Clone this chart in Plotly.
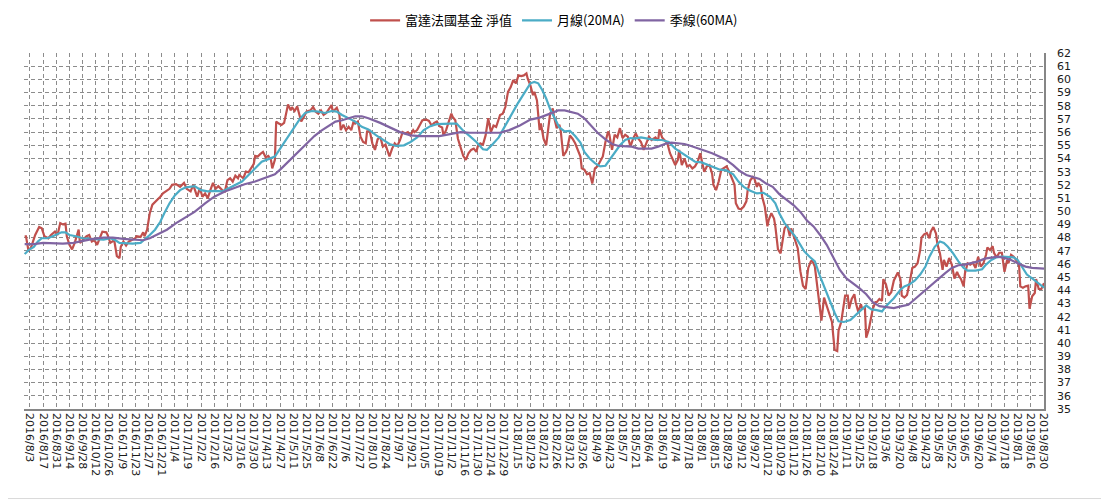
import plotly.graph_objects as go

# ---- x-axis category labels (one every 10 trading days) ----
tick_labels = [
    "2016/8/3", "2016/8/17", "2016/8/31", "2016/9/14", "2016/9/28", "2016/10/12", "2016/10/26",
    "2016/11/9", "2016/11/23", "2016/12/7", "2016/12/21",
    "2017/1/4", "2017/1/19", "2017/2/2", "2017/2/16", "2017/3/2", "2017/3/16", "2017/3/30",
    "2017/4/13", "2017/4/27", "2017/5/11", "2017/5/25", "2017/6/8", "2017/6/22", "2017/7/6",
    "2017/7/27", "2017/8/10", "2017/8/24", "2017/9/7", "2017/9/21", "2017/10/5", "2017/10/19",
    "2017/11/2", "2017/11/16", "2017/11/30", "2017/12/14", "2017/12/29",
    "2018/1/15", "2018/1/29", "2018/2/12", "2018/2/26", "2018/3/12", "2018/3/26", "2018/4/9",
    "2018/4/23", "2018/5/7", "2018/5/21", "2018/6/4", "2018/6/19", "2018/7/4", "2018/7/18",
    "2018/8/1", "2018/8/15", "2018/8/29", "2018/9/12", "2018/9/27", "2018/10/12", "2018/10/29",
    "2018/11/12", "2018/11/26", "2018/12/10", "2018/12/24",
    "2019/1/11", "2019/1/25", "2019/2/18", "2019/3/6", "2019/3/20", "2019/4/8", "2019/4/23",
    "2019/5/8", "2019/5/22", "2019/6/5", "2019/6/20", "2019/7/4", "2019/7/18", "2019/8/1",
    "2019/8/16", "2019/8/30",
]
label_step = 10  # trading days between labels

# ---- 富達法國基金 淨值 (trading-day index, NAV) ----
nav_day = [
    -4, -3, -1, 1, 4, 7, 9, 11, 14, 16, 19, 21, 23, 25, 27, 28, 30, 32, 34, 37, 38, 40, 43, 45, 47, 49,
    51, 53, 55, 58, 59, 61, 64, 66, 68, 69, 71, 73, 75, 77, 80, 81, 84, 86, 87, 89, 91, 93, 95, 97, 99,
    101, 103, 106, 108, 111, 114, 117, 119, 122, 124, 127, 129, 131, 133, 135, 137, 139, 141, 143, 146,
    148, 150, 152, 154, 156, 158, 159, 162, 164, 166, 168, 170, 171, 173, 175, 177, 179, 181, 183, 184,
    186, 187, 189, 191, 193, 195, 196, 198, 199, 201, 203, 204, 206, 208, 210, 213, 215, 217, 219, 221,
    223, 225, 227, 229, 230, 233, 235, 236, 238, 240, 242, 244, 246, 247, 249, 251, 253, 255, 256, 258,
    260, 262, 264, 266, 268, 270, 271, 273, 275, 277, 279, 281, 283, 285, 287, 289, 291, 292, 294, 296,
    298, 301, 303, 305, 307, 309, 311, 313, 314, 316, 318, 320, 321, 323, 325, 327, 329, 331, 333, 335,
    337, 339, 340, 342, 344, 346, 348, 350, 352, 354, 356, 357, 359, 361, 363, 365, 367, 369, 371, 373,
    375, 377, 378, 380, 382, 383, 385, 387, 388, 390, 392, 394, 395, 397, 398, 400, 402, 403, 405, 407,
    408, 410, 412, 414, 416, 418, 419, 421, 423, 425, 427, 429, 431, 433, 435, 437, 439, 440, 442, 444,
    446, 448, 450, 452, 454, 456, 458, 460, 462, 464, 466, 468, 470, 472, 475, 477, 478, 480, 482, 484,
    486, 488, 490, 492, 493, 495, 497, 499, 501, 503, 505, 507, 509, 510, 512, 514, 516, 518, 519, 521,
    523, 525, 527, 529, 531, 533, 535, 536, 538, 540, 542, 544, 545, 547, 549, 550, 552, 553, 555, 556,
    558, 560, 561, 563, 565, 566, 568, 570, 571, 573, 575, 577, 578, 580, 582, 583, 585, 587, 589, 591,
    593, 594, 596, 598, 599, 601, 603, 605, 607, 609, 610, 611, 613, 614, 616, 617, 619, 621, 622, 624,
    626, 627, 629, 631, 632, 634, 635, 637, 638, 640, 642, 643, 645, 647, 648, 650, 652, 654, 656, 658,
    659, 661, 662, 664, 666, 668, 670, 672, 674, 676, 677, 679, 681, 683, 684, 686, 688, 689, 691, 693,
    694, 696, 698, 700, 702, 704, 705, 707, 709, 710, 712, 714, 716, 718, 720, 722, 724, 726, 727, 729,
    731, 732, 734, 736, 738, 740, 742, 743, 745, 747, 749, 751, 752, 754, 756, 758, 759, 761, 763, 764,
    766, 768, 770,
]
nav_value = [
    48.1, 48.1, 46.95, 47.3, 48.2, 48.8, 48.7, 48.1, 47.95, 48.2, 48.45, 48.2, 49.1, 49.0, 49.05, 48.1,
    47.45, 47.1, 47.6, 48.6, 47.6, 47.8, 48.1, 48.2, 47.7, 47.8, 47.45, 47.95, 48.45, 48.4, 48.2, 47.6,
    47.8, 46.6, 46.45, 47.3, 47.7, 47.4, 47.7, 47.8, 47.95, 48.1, 48.05, 48.4, 48.1, 48.6, 49.85, 50.5,
    50.7, 50.85, 51.1, 51.35, 51.5, 51.7, 52.0, 52.05, 51.85, 52.15, 51.7, 51.5, 52.0, 51.1, 51.75, 51.1,
    51.35, 50.98, 51.6, 52.15, 51.7, 51.9, 51.6, 51.5, 52.35, 52.5, 52.25, 52.7, 52.5, 52.75, 52.5, 53.0,
    52.95, 53.25, 53.6, 54.2, 54.15, 54.35, 54.5, 54.1, 54.2, 53.9, 53.25, 53.9, 56.8, 56.65, 56.55, 56.7,
    57.55, 58.1, 57.65, 57.9, 57.6, 57.95, 57.55, 56.8, 57.15, 57.55, 57.65, 57.9, 57.55, 57.4, 57.65,
    57.3, 57.45, 57.8, 58.05, 57.55, 57.85, 57.3, 56.15, 56.55, 56.15, 56.4, 56.15, 56.9, 56.65, 56.8,
    55.65, 55.25, 55.15, 56.05, 56.1, 55.15, 54.65, 55.45, 55.65, 54.9, 55.05, 54.75, 54.15, 54.75, 55.15,
    54.95, 55.4, 56.0, 55.9, 56.0, 55.75, 56.15, 56.0, 56.15, 56.5, 56.9, 56.95, 56.85, 56.5, 56.7, 56.8,
    56.45, 56.35, 55.75, 56.15, 56.8, 57.4, 57.15, 56.9, 55.5, 54.9, 54.2, 53.9, 54.4, 54.65, 54.75, 54.5,
    54.9, 55.15, 55.05, 55.75, 57.05, 56.0, 56.5, 56.4, 57.05, 57.3, 57.4, 57.9, 59.05, 59.4, 59.95, 59.7,
    60.3, 60.25, 60.3, 60.45, 60.05, 59.55, 58.8, 59.05, 58.4, 56.15, 56.65, 55.5, 55.0, 56.8, 57.4, 57.8,
    57.15, 56.3, 56.55, 56.15, 54.2, 54.5, 54.75, 55.75, 55.5, 55.15, 54.65, 54.15, 53.25, 53.15, 52.8,
    52.9, 52.1, 53.25, 53.4, 53.75, 54.15, 55.25, 56.05, 55.8, 54.65, 55.8, 55.6, 56.3, 55.55, 55.8, 55.65,
    54.9, 55.5, 55.9, 55.5, 55.25, 54.65, 55.15, 55.65, 55.4, 55.6, 55.35, 56.2, 55.6, 55.4, 55.15, 54.4,
    54.0, 53.5, 53.9, 54.65, 53.5, 54.0, 53.4, 53.5, 53.25, 53.4, 53.75, 54.4, 53.9, 53.0, 53.4, 53.5,
    52.85, 52.0, 51.6, 52.25, 53.15, 53.25, 53.4, 53.0, 52.5, 52.0, 50.6, 50.2, 50.15, 50.35, 50.75, 51.6,
    52.35, 52.6, 52.5, 51.85, 52.15, 51.85, 51.1, 50.35, 48.85, 49.35, 49.85, 49.45, 48.85, 47.1, 46.8,
    47.35, 48.7, 48.95, 48.1, 48.7, 48.1, 47.35, 47.2, 45.45, 44.35, 44.1, 45.7, 46.2, 46.25, 45.8, 44.1,
    43.1, 41.7, 43.45, 42.85, 42.1, 41.6, 40.55, 39.5, 39.4, 40.95, 41.6, 42.35, 43.6, 43.6, 42.6, 43.35,
    43.7, 43.1, 42.35, 42.95, 42.6, 42.7, 40.4, 41.05, 41.55, 42.6, 43.1, 43.1, 43.35, 43.2, 44.85, 44.45,
    43.6, 43.85, 44.75, 45.15, 45.35, 44.85, 43.6, 43.45, 43.65, 44.6, 45.7, 45.8, 46.05, 47.05, 48.0,
    48.25, 48.35, 47.95, 48.45, 48.8, 48.3, 47.55, 46.8, 45.55, 46.3, 45.8, 46.45, 45.95, 44.9, 45.4,
    45.15, 44.85, 44.3, 45.3, 46.05, 45.95, 46.1, 45.7, 46.55, 45.8, 46.05, 46.7, 47.25, 47.05, 47.35,
    46.85, 46.5, 46.85, 46.85, 45.4, 46.3, 46.05, 46.7, 46.55, 46.3, 46.0, 44.3, 44.2, 44.3, 44.35, 42.6,
    43.55, 43.8, 44.85, 44.1, 44.1, 44.55,
]

# ---- 月線(20MA) ----
ma20_day = [
    -4, -1, 3, 6, 9, 13, 16, 20, 24, 27, 30, 35, 40, 46, 51, 56, 61, 65, 68, 73, 78, 84, 87, 91, 95, 99,
    102, 106, 110, 114, 118, 121, 125, 130, 135, 140, 146, 151, 156, 161, 166, 171, 176, 181, 186, 191,
    196, 201, 205, 209, 214, 219, 224, 229, 233, 237, 242, 247, 252, 257, 263, 268, 273, 278, 284, 289,
    294, 299, 304, 309, 314, 319, 324, 329, 334, 339, 344, 347, 351, 356, 359, 364, 370, 375, 380, 383,
    386, 389, 392, 395, 399, 402, 406, 410, 414, 418, 421, 425, 429, 433, 437, 440, 444, 448, 452, 456,
    459, 464, 469, 475, 480, 485, 490, 495, 500, 505, 510, 515, 520, 524, 529, 534, 538, 542, 547, 552,
    557, 562, 566, 569, 573, 577, 581, 585, 588, 592, 596, 600, 604, 607, 611, 614, 618, 623, 626, 630,
    635, 639, 643, 647, 650, 656, 661, 664, 668, 672, 676, 680, 683, 687, 691, 694, 697, 701, 705, 709,
    712, 718, 723, 726, 730, 734, 738, 743, 747, 750, 753, 757, 761, 764, 768, 770,
]
ma20_value = [
    46.75, 47.05, 47.3, 47.7, 47.95, 47.95, 48.05, 48.2, 48.4, 48.4, 48.2, 48.1, 47.95, 47.9, 47.85,
    47.85, 47.95, 47.8, 47.6, 47.55, 47.55, 47.6, 47.85, 48.2, 48.6, 49.2, 49.85, 50.6, 51.2, 51.6, 51.8,
    51.85, 51.9, 51.6, 51.5, 51.55, 51.5, 51.75, 52.0, 52.25, 52.75, 53.25, 53.75, 53.95, 54.15, 54.9,
    55.65, 56.4, 57.0, 57.45, 57.6, 57.55, 57.45, 57.6, 57.55, 57.3, 57.05, 56.8, 56.4, 56.2, 55.75, 55.4,
    55.1, 54.95, 55.0, 55.25, 55.6, 56.15, 56.45, 56.6, 56.65, 56.65, 56.65, 56.1, 55.7, 55.25, 54.7,
    54.65, 55.05, 55.6, 56.15, 57.05, 58.1, 58.9, 59.7, 59.8, 59.7, 59.2, 58.55, 57.75, 56.9, 56.35,
    56.05, 56.1, 55.7, 55.2, 54.5, 54.0, 53.65, 53.4, 53.45, 53.9, 54.5, 55.0, 55.4, 55.55, 55.5, 55.6,
    55.5, 55.4, 55.4, 55.25, 54.75, 54.4, 54.1, 53.75, 53.7, 53.5, 53.35, 53.15, 53.1, 52.8, 52.25,
    51.85, 51.55, 51.35, 51.4, 51.1, 50.6, 49.85, 49.1, 48.6, 48.1, 47.45, 46.95, 46.55, 46.2, 45.05,
    44.05, 43.15, 42.3, 41.65, 41.6, 41.75, 42.05, 42.4, 42.85, 42.55, 42.5, 42.4, 42.8, 43.4, 44.05,
    44.3, 44.45, 44.75, 45.2, 45.8, 46.55, 47.3, 47.7, 47.6, 47.3, 46.8, 46.2, 45.7, 45.5, 45.5, 45.6,
    45.95, 46.3, 46.5, 46.55, 46.55, 46.5, 46.3, 45.8, 45.2, 44.9, 44.65, 44.3, 44.2,
]

# ---- 季線(60MA) ----
ma60_day = [
    -4, 3, 10, 18, 25, 33, 40, 48, 56, 63, 71, 78, 86, 91, 96, 104, 111, 119, 125, 133, 140, 148, 156,
    163, 171, 178, 186, 191, 196, 201, 206, 211, 216, 221, 227, 232, 237, 242, 247, 252, 257, 266, 273,
    281, 289, 296, 304, 311, 319, 327, 334, 342, 349, 357, 364, 372, 380, 387, 395, 401, 406, 411, 416,
    421, 426, 431, 437, 442, 447, 452, 457, 462, 467, 472, 477, 482, 487, 492, 497, 502, 507, 512, 518,
    523, 528, 534, 539, 544, 549, 554, 559, 564, 569, 575, 580, 585, 590, 595, 600, 605, 610, 615, 620,
    625, 630, 635, 640, 645, 650, 656, 662, 667, 671, 675, 680, 685, 690, 695, 700, 705, 710, 715, 720,
    725, 730, 735, 740, 745, 750, 756, 761, 766, 770,
]
ma60_value = [
    47.5, 47.5, 47.6, 47.55, 47.55, 47.6, 47.75, 47.9, 48.0, 48.0, 47.9, 47.85, 47.8, 47.95, 48.2, 48.6,
    49.1, 49.6, 49.95, 50.6, 51.1, 51.5, 51.8, 52.05, 52.25, 52.5, 52.8, 53.25, 53.75, 54.25, 54.75,
    55.25, 55.7, 56.1, 56.45, 56.8, 56.9, 57.05, 57.2, 57.2, 57.05, 56.7, 56.35, 56.0, 55.75, 55.7, 55.7,
    55.7, 55.85, 56.0, 55.95, 55.95, 55.9, 55.95, 56.15, 56.5, 56.95, 57.1, 57.4, 57.65, 57.65, 57.55,
    57.4, 57.05, 56.5, 55.95, 55.45, 55.1, 54.95, 54.95, 54.9, 54.75, 54.75, 54.75, 54.9, 55.1, 55.2,
    55.15, 55.1, 54.95, 54.75, 54.6, 54.4, 54.15, 53.95, 53.5, 53.05, 52.75, 52.6, 52.45, 52.1, 51.85,
    51.3, 50.85, 50.45, 49.95, 49.3, 48.85, 48.2, 47.45, 46.45, 45.55, 44.9, 44.55, 44.15, 43.7, 43.1,
    42.8, 42.75, 42.65, 42.8, 42.9, 43.25, 43.6, 44.05, 44.45, 44.85, 45.3, 45.7, 45.9, 45.95, 46.05,
    46.2, 46.4, 46.5, 46.55, 46.45, 46.3, 46.05, 45.8, 45.7, 45.65, 45.65,
]

series_names = ["富達法國基金 淨值", "月線(20MA)", "季線(60MA)"]
series_colors = ["#C0504D", "#4BACC6", "#8064A2"]

fig = go.Figure()
for name, xs, ys, col in [
    (series_names[0], nav_day, nav_value, series_colors[0]),
    (series_names[1], ma20_day, ma20_value, series_colors[1]),
    (series_names[2], ma60_day, ma60_value, series_colors[2]),
]:
    fig.add_trace(go.Scatter(x=xs, y=ys, mode="lines", name=name,
                             line=dict(color=col, width=2.2)))

tickvals = [i * label_step for i in range(len(tick_labels))]
grid_col = "#8C8C8C"

# page body has an 8px margin, so the figure is sized/offset to land where the reference's plot sits
fig.update_layout(
    width=1101, height=493,
    paper_bgcolor="white", plot_bgcolor="white",
    margin=dict(l=16, r=65, t=45, b=92),
    showlegend=True,
    legend=dict(orientation="h", xref="container", yref="container",
                x=0.496, xanchor="center", y=0.975, yanchor="middle",
                font=dict(family="Noto Sans CJK TC, DejaVu Sans", size=13, color="#000000"),
                itemwidth=30, bgcolor="rgba(0,0,0,0)"),
    font=dict(family="DejaVu Sans", size=11, color="#1a1a1a"),
    xaxis=dict(
        range=[-4.5, 770], tickmode="array", tickvals=tickvals, ticktext=tick_labels,
        tickangle=90, tickfont=dict(family="DejaVu Sans", size=11, color="#1a1a1a"),
        showgrid=True, gridcolor=grid_col, griddash="4px,3px", gridwidth=1,
        showline=True, linecolor="#868686", linewidth=1.5,
        ticks="", zeroline=False,
    ),
    yaxis=dict(
        range=[35, 62], dtick=1, side="right",
        tickfont=dict(family="DejaVu Sans", size=11, color="#1a1a1a"),
        showgrid=True, gridcolor=grid_col, griddash="4px,3px", gridwidth=1,
        showline=True, linecolor="#868686", linewidth=1.5,
        ticks="outside", ticklen=9, tickcolor="rgba(0,0,0,0)", zeroline=False,
    ),
    shapes=[dict(type="rect", xref="paper", yref="paper",
                 x0=-0.0225, x1=1.0608, y0=-0.2515, y1=1.145,
                 line=dict(color="#D9D9D9", width=1), fillcolor="rgba(0,0,0,0)", layer="below")],
)

fig.write_html("out.html")
